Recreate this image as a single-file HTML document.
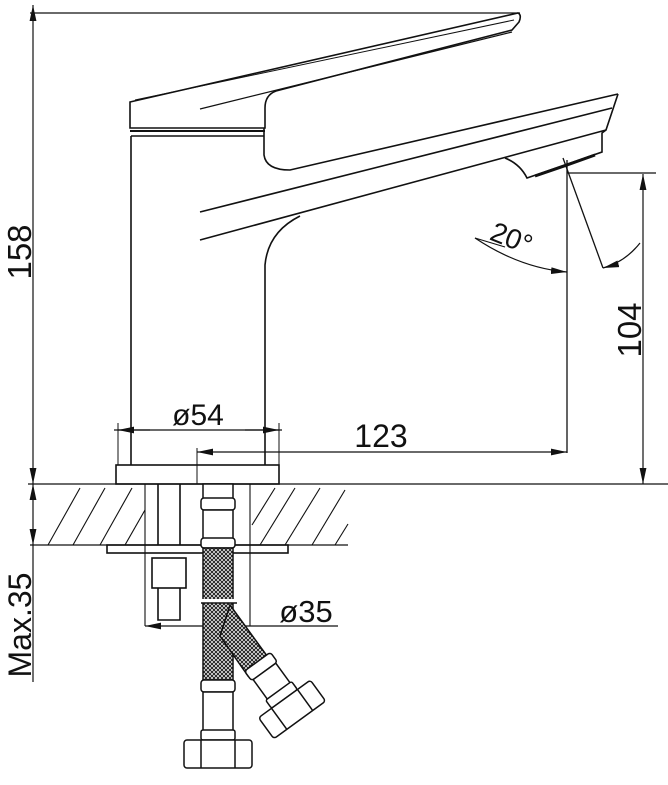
<!DOCTYPE html>
<html><head><meta charset="utf-8"><style>
html,body{margin:0;padding:0;background:#fff;}
svg{display:block;}
text{font-family:"Liberation Sans",sans-serif;fill:#111;}
</style></head><body>
<svg width="668" height="785" viewBox="0 0 668 785" xmlns="http://www.w3.org/2000/svg">
<defs>
<marker id="ar2" viewBox="0 0 14 6" refX="14" refY="3" markerWidth="16" markerHeight="7" markerUnits="userSpaceOnUse" orient="auto-start-reverse"><path d="M0,0L14,3L0,6z" fill="#111"/></marker>
<pattern id="braid" width="4" height="4" patternUnits="userSpaceOnUse"><rect width="4" height="4" fill="#fff"/><path d="M0,0L4,4M4,0L0,4" stroke="#222" stroke-width="1.1"/></pattern>
</defs>
<g fill="none" stroke="#111" stroke-width="1.6">
<line x1="30" y1="13" x2="520" y2="13" stroke-width="1.2"/>
<path d="M130,102 L518,13 Q522,15 519,22 L512,30 L276,91 Q265,95 265,108 L265,128 L130,128 Z"/>
<path d="M135,100 L514,20" stroke-width="1"/>
<path d="M200,109 L512,32" stroke-width="1.2"/>
<line x1="130" y1="131" x2="265" y2="131" stroke-width="2"/>
<path d="M131,136 L131,465"/>
<line x1="131" y1="136" x2="264" y2="136"/>
<path d="M264,128 L264,155 Q266,170 290,170 L618,94"/>
<path d="M200,212 L612,108"/>
<path d="M618,94 L606,130 L602,133 L602,152 L527,178 Q520,164 505,158"/>
<path d="M200,240 L606,130" stroke-width="1.6"/>
<path d="M265,465 L265,265 Q268,232 300,216"/>
<path d="M535,176 Q565,166 595,155" stroke-width="3"/>
<line x1="567" y1="160" x2="567" y2="453" stroke-width="1.3"/>
<line x1="563" y1="158" x2="603" y2="268" stroke-width="1.3"/>
<line x1="567" y1="173" x2="656" y2="173" stroke-width="1.3"/>
<path d="M475,238 Q520,268 567,272" stroke-width="1.2" marker-end="url(#ar2)"/>
<path d="M640,243 Q625,262 603,268" stroke-width="1.2" marker-end="url(#ar2)"/>
<line x1="475" y1="238" x2="505" y2="247" stroke-width="1"/>
<line x1="33" y1="5" x2="33" y2="484" stroke-width="1.2" marker-start="url(#ar2)" marker-end="url(#ar2)"/>
<line x1="643" y1="174" x2="643" y2="484" stroke-width="1.2" marker-start="url(#ar2)" marker-end="url(#ar2)"/>
<line x1="118" y1="423" x2="118" y2="465" stroke-width="1"/>
<line x1="279" y1="423" x2="279" y2="465" stroke-width="1"/>
<line x1="114" y1="430" x2="282" y2="430" stroke-width="1.2"/>
<line x1="118" y1="430" x2="150" y2="430" stroke-width="1.2" marker-start="url(#ar2)"/>
<line x1="245" y1="430" x2="279" y2="430" stroke-width="1.2" marker-end="url(#ar2)"/>
<line x1="197" y1="448" x2="197" y2="484" stroke-width="1"/>
<line x1="197" y1="452" x2="567" y2="452" stroke-width="1.2" marker-start="url(#ar2)" marker-end="url(#ar2)"/>
<rect x="116" y="465" width="163" height="19"/>
<line x1="28" y1="484" x2="668" y2="484" stroke-width="1.3"/>
<line x1="30" y1="545" x2="348" y2="545" stroke-width="1.3"/>
<g stroke-width="1.1">
<line x1="48" y1="545" x2="80" y2="488"/><line x1="73" y1="545" x2="105" y2="488"/><line x1="100" y1="545" x2="132" y2="488"/><line x1="125" y1="545" x2="145" y2="510"/>
<line x1="252" y1="525" x2="275" y2="488"/><line x1="260" y1="545" x2="295" y2="488"/><line x1="285" y1="545" x2="320" y2="488"/><line x1="312" y1="545" x2="345" y2="490"/><line x1="335" y1="545" x2="348" y2="524"/>
</g>
<line x1="145" y1="484" x2="145" y2="626" stroke-width="1.1"/>
<line x1="250" y1="484" x2="250" y2="626" stroke-width="1.1"/>
<rect x="107" y="545" width="181" height="8"/>
<line x1="158" y1="484" x2="158" y2="545"/><line x1="180" y1="484" x2="180" y2="545"/>
<rect x="152" y="558" width="34" height="30"/>
<path d="M158,588 L158,620 L180,620 L180,588"/>
<line x1="33" y1="484" x2="33" y2="545" stroke-width="1.2" marker-start="url(#ar2)" marker-end="url(#ar2)"/>
<line x1="33" y1="545" x2="33" y2="682" stroke-width="1.2"/>
<line x1="145" y1="626" x2="338" y2="626" stroke-width="1.2" marker-start="url(#ar2)"/>
</g>
<g stroke="#111" stroke-width="1.5">
<rect x="203" y="484" width="30" height="16" fill="#fff"/>
<rect x="201" y="498" width="34" height="12" rx="3" fill="#fff"/>
<rect x="203" y="510" width="30" height="30" fill="#fff"/>
<rect x="201" y="538" width="34" height="10" rx="3" fill="#fff"/>
<rect x="203" y="548" width="30" height="132" fill="url(#braid)"/>
<path d="M230,605 L270,660 L248,676 L220,636 Z" fill="url(#braid)"/>
<line x1="201" y1="601" x2="235" y2="601" stroke="#fff" stroke-width="4"/>
<line x1="201" y1="603" x2="237" y2="603"/>
<rect x="201" y="680" width="34" height="12" rx="3" fill="#fff"/>
<rect x="203" y="692" width="30" height="40" fill="#fff"/>
<rect x="201" y="730" width="34" height="10" rx="2" fill="#fff"/>
<rect x="184" y="740" width="68" height="28" rx="3" fill="#fff"/>
<line x1="201" y1="740" x2="201" y2="768"/><line x1="235" y1="740" x2="235" y2="768"/>
<g transform="rotate(-36 278 690)">
<rect x="262" y="655" width="32" height="12" rx="3" fill="#fff"/>
<rect x="264" y="667" width="28" height="26" fill="#fff"/>
<rect x="262" y="691" width="32" height="10" rx="2" fill="#fff"/>
<rect x="246" y="701" width="64" height="26" rx="3" fill="#fff"/>
<line x1="262" y1="701" x2="262" y2="727"/><line x1="294" y1="701" x2="294" y2="727"/>
</g>
</g>
<text x="0" y="0" font-size="33" transform="translate(31,252) rotate(-90)" text-anchor="middle">158</text>
<text x="0" y="0" font-size="33" transform="translate(641,330) rotate(-90)" text-anchor="middle">104</text>
<text x="198" y="425" font-size="30" text-anchor="middle">ø54</text>
<text x="381" y="447" font-size="32" text-anchor="middle">123</text>
<text x="306" y="622" font-size="31" text-anchor="middle">ø35</text>
<text x="0" y="0" font-size="32" transform="translate(31,625) rotate(-90)" text-anchor="middle">Max.35</text>
<text x="0" y="0" font-size="28" transform="translate(508,247) rotate(22)" text-anchor="middle">20°</text>
</svg>
</body></html>
